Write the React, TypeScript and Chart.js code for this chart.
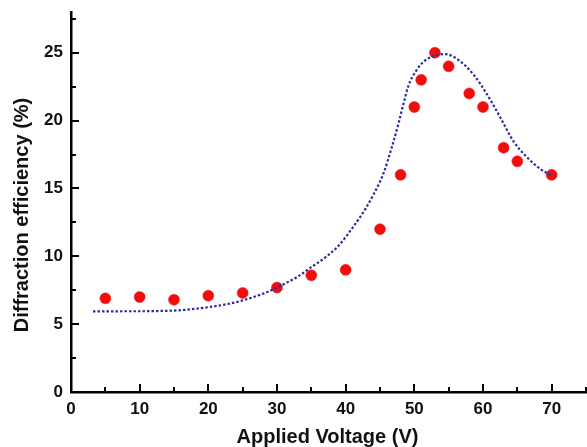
import React, { useEffect, useRef } from "react";
import { Chart, registerables } from "chart.js";

Chart.register(...registerables);

// Measured data points (Applied voltage in V, diffraction efficiency in %)
const voltage = [5, 10, 15, 20, 25, 30, 35, 40, 45, 48, 50, 51, 53, 55, 58, 60, 63, 65, 70];
const efficiency = [6.9, 7.0, 6.8, 7.1, 7.3, 7.7, 8.6, 9.0, 12, 16, 21, 23, 25, 24, 22, 21, 18, 17, 16];

// Fitted curve
const fitVoltage = [3.2, 5, 8, 10, 13, 15, 18, 20, 23, 25, 28, 30, 33, 35, 37, 39, 41, 43, 44, 45.5, 46.7, 47.7, 48.4, 49.1, 50.3, 51.5, 52.8, 54.5, 56.6, 58.6, 60.5, 62.5, 64.4, 66.4, 68.3, 70];
const fitEfficiency = [5.94, 5.94, 5.95, 5.95, 5.97, 6.0, 6.12, 6.25, 6.5, 6.75, 7.25, 7.7, 8.5, 9.2, 9.9, 10.8, 12.1, 13.6, 14.5, 16.1, 18.0, 19.8, 21.2, 22.5, 23.7, 24.4, 24.75, 24.9, 24.4, 23.4, 22.0, 20.25, 18.5, 17.3, 16.45, 15.96];

// Axis ranges and ticks
const xMin = 0;
const xMax = 75;
const xLabelStep = 10;
const xMinorStep = 5;
const yMin = 0;
const yMax = 28;
const yLabelStep = 5;
const yMinorStep = 2.5;

const xTitle = "Applied Voltage (V)";
const yTitle = "Diffraction efficiency (%)";

const FONT = "'Liberation Sans', Arial, Helvetica, sans-serif";

const innerTicksPlugin = {
  id: "innerTicks",
  afterDraw(chart: any) {
    const { ctx, chartArea, scales } = chart;
    const xs = scales.x;
    const ys = scales.y;
    ctx.save();
    ctx.strokeStyle = "#000";
    ctx.lineWidth = 2;
    // x ticks, pointing up into the plot
    for (let v = xMin + xMinorStep; v <= xMax + 1e-9; v += xMinorStep) {
      const px = Math.round(xs.getPixelForValue(v));
      const major = Math.abs(v % xLabelStep) < 1e-9;
      const len = major ? 8 : 5;
      ctx.beginPath();
      ctx.moveTo(px, chartArea.bottom);
      ctx.lineTo(px, chartArea.bottom - len);
      ctx.stroke();
    }
    // y ticks, pointing right into the plot
    for (let v = yMin + yMinorStep; v <= yMax + 1e-9; v += yMinorStep) {
      const py = Math.round(ys.getPixelForValue(v));
      const major = Math.abs(v % yLabelStep) < 1e-9;
      const len = major ? 8 : 5;
      ctx.beginPath();
      ctx.moveTo(chartArea.left, py);
      ctx.lineTo(chartArea.left + len, py);
      ctx.stroke();
    }
    // axis titles
    ctx.fillStyle = "#111";
    ctx.font = `bold 20px ${FONT}`;
    ctx.textAlign = "center";
    ctx.textBaseline = "middle";
    ctx.fillText(xTitle, (chartArea.left + chartArea.right) / 2 - 1, 437);
    ctx.translate(22, 215);
    ctx.rotate(-Math.PI / 2);
    ctx.fillText(yTitle, 0, 0);
    ctx.restore();
  },
};

export default function App() {
  const ref = useRef<HTMLCanvasElement | null>(null);

  useEffect(() => {
    if (!ref.current) return;
    const chart = new Chart(ref.current, {
      type: "scatter",
      data: {
        datasets: [
          {
            label: "Fit",
            data: fitVoltage.map((x, i) => ({ x, y: fitEfficiency[i] })),
            showLine: true,
            borderColor: "#2e2ea0",
            borderWidth: 2.2,
            borderDash: [2.5, 2],
            pointRadius: 0,
            cubicInterpolationMode: "monotone",
            fill: false,
          },
          {
            label: "Data",
            data: voltage.map((x, i) => ({ x, y: efficiency[i] })),
            showLine: false,
            pointRadius: 5.5,
            pointBackgroundColor: "#f20d0d",
            pointBorderColor: "#e81818",
            pointBorderWidth: 0.5,
          },
        ],
      } as any,
      options: {
        responsive: false,
        animation: false,
        layout: { autoPadding: false, padding: { top: 12, right: 1, left: 0, bottom: 0 } },
        plugins: {
          legend: { display: false },
          tooltip: { enabled: false },
        },
        scales: {
          x: {
            type: "linear",
            min: xMin,
            max: xMax,
            grid: { display: false, drawTicks: false },
            border: { display: true, color: "#000", width: 2.5 },
            ticks: {
              stepSize: xLabelStep,
              padding: 7,
              color: "#111",
              font: { family: FONT, size: 17, weight: "bold" },
              maxRotation: 0,
            },
            afterBuildTicks: (scale: any) => {
              scale.ticks = scale.ticks.filter((t: any) => Math.abs(t.value % xLabelStep) < 1e-9);
            },
            afterFit: (scale: any) => {
              scale.height = 55;
              scale.paddingLeft = 0;
              scale.paddingRight = 0;
            },
          },
          y: {
            type: "linear",
            min: yMin,
            max: yMax,
            grid: { display: false, drawTicks: false },
            border: { display: true, color: "#000", width: 2.5 },
            ticks: {
              stepSize: yLabelStep,
              padding: 8,
              color: "#111",
              font: { family: FONT, size: 17, weight: "bold" },
            },
            afterBuildTicks: (scale: any) => {
              scale.ticks = scale.ticks.filter((t: any) => Math.abs(t.value % yLabelStep) < 1e-9);
            },
            afterFit: (scale: any) => {
              scale.width = 71;
              scale.paddingTop = 0;
              scale.paddingBottom = 0;
            },
          },
        },
      } as any,
      plugins: [innerTicksPlugin],
    });
    return () => chart.destroy();
  }, []);

  return (
    <div style={{ position: "fixed", left: 0, top: 0, width: 587, height: 447, background: "#fff" }}>
      <canvas ref={ref} width={587} height={447} style={{ display: "block" }} />
    </div>
  );
}
